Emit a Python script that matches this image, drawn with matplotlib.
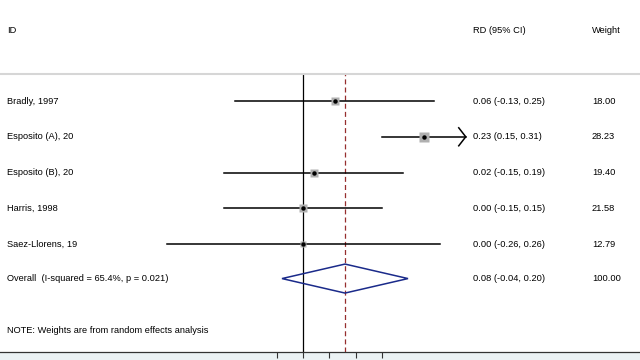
import numpy as np
import matplotlib
matplotlib.use("Agg")
import matplotlib.pyplot as plt
from matplotlib.patches import Rectangle, Polygon
from matplotlib.lines import Line2D

# Study data
study_ids = ["Bradly, 1997", "Esposito (A), 20", "Esposito (B), 20", "Harris, 1998", "Saez-Llorens, 19"]
rd = [0.06, 0.23, 0.02, 0.00, 0.00]
ci_low = [-0.13, 0.15, -0.15, -0.15, -0.26]
ci_high = [0.25, 0.31, 0.19, 0.15, 0.26]
ci_text = ["0.06 (-0.13, 0.25)", "0.23 (0.15, 0.31)", "0.02 (-0.15, 0.19)",
           "0.00 (-0.15, 0.15)", "0.00 (-0.26, 0.26)"]
weights = [18.00, 28.23, 19.40, 21.58, 12.79]
weight_text = ["18.00", "28.23", "19.40", "21.58", "12.79"]

overall_label = "Overall  (I-squared = 65.4%, p = 0.021)"
overall_rd, overall_low, overall_high = 0.08, -0.04, 0.20
overall_text = "0.08 (-0.04, 0.20)"
overall_weight = "100.00"
note = "NOTE: Weights are from random effects analysis"

x_ticks = [-0.05, 0.0, 0.05, 0.10, 0.15]
x_clip = 0.31  # right edge of the plotted range; CIs reaching it get an arrow

plt.rcParams['font.family'] = ['Liberation Sans', 'DejaVu Sans']
fs = 6.7

fig = plt.figure(figsize=(6.4, 3.6), dpi=100)
fig.patch.set_facecolor("white")

# pixel scale of the plot
px_per_x = 525.0
row_px = 35.8

# axis spans px 74 .. 351.5
ax = fig.add_axes([0, (360 - 351.5) / 360, 1, (351.5 - 74) / 360])
ax.set_xlim(-303 / px_per_x, (640 - 303) / px_per_x)
r_top = 1 - (101 - 74) / row_px
r_bot = 1 + (351.5 - 101) / row_px
ax.set_ylim(r_bot, r_top)
ax.patch.set_alpha(0)
for s in ["top", "left", "right"]:
    ax.spines[s].set_visible(False)
ax.spines["bottom"].set_color("#333333")
ax.spines["bottom"].set_linewidth(0.9)
ax.set_xticks(x_ticks)
ax.set_xticklabels([])
ax.tick_params(axis="x", direction="out", length=4.5, width=0.8, color="#333333")
ax.set_yticks([])

# light band below the axis and grey separator at top
fig.add_artist(Rectangle((0, 0), 1, (360 - 352) / 360, transform=fig.transFigure,
                         facecolor="#ebf2f4", edgecolor="none", zorder=0))
fig.add_artist(Line2D([0, 1], [(360 - 74) / 360] * 2, transform=fig.transFigure,
                      color="#d6d6d6", lw=1.5))

# null line and overall dashed line
ax.axvline(0, color="black", lw=0.9, zorder=2)
ax.axvline(overall_rd, color="#962e2e", lw=0.9, ls=(0, (4, 2.5)), zorder=2)

rows = np.arange(1, len(study_ids) + 1)
tr = ax.get_yaxis_transform()
head_dx = 7 / px_per_x
head_dy = 9 / row_px
for r, est, lo, hi, w, sid, ct, wt in zip(rows, rd, ci_low, ci_high, weights,
                                          study_ids, ci_text, weight_text):
    if hi >= x_clip - 1e-9:
        ax.plot([lo, x_clip], [r, r], color="black", lw=1.1, zorder=3)
        ax.plot([x_clip - head_dx, x_clip, x_clip - head_dx],
                [r - head_dy, r, r + head_dy], color="black", lw=1.1, zorder=3)
    else:
        ax.plot([lo, hi], [r, r], color="black", lw=1.1, zorder=3)
    side = 1.75 * np.sqrt(w) / 1.389
    ax.plot(est, r, marker="s", ms=side, color="#b0b0b0", mec="none", zorder=4)
    ax.plot(est, r, marker="o", ms=3.2, color="black", mec="none", zorder=5)
    ax.text(7 / 640, r, sid, transform=tr, fontsize=fs, va="center", ha="left")
    ax.text(473 / 640, r, ct, transform=tr, fontsize=fs, va="center", ha="left")
    ax.text(592 / 640, r, wt, transform=tr, fontsize=fs, va="center", ha="left")

# overall diamond
r_ov = len(study_ids) + 1 - 0.04
h = 14.5 / row_px
ax.add_patch(Polygon([[overall_low, r_ov], [overall_rd, r_ov - h],
                      [overall_high, r_ov], [overall_rd, r_ov + h]],
                     closed=True, fill=False, edgecolor="#1a2a8a", lw=1.1, zorder=4))
ax.text(7 / 640, r_ov, overall_label, transform=tr, fontsize=fs, va="center", ha="left")
ax.text(473 / 640, r_ov, overall_text, transform=tr, fontsize=fs, va="center", ha="left")
ax.text(592 / 640, r_ov, overall_weight, transform=tr, fontsize=fs, va="center", ha="left")

# header and note
r_head = 1 - (101 - 30) / row_px
ax.text(7 / 640, r_head, "ID", transform=tr, fontsize=fs, va="center", ha="left")
ax.text(473 / 640, r_head, "RD (95% CI)", transform=tr, fontsize=fs, va="center", ha="left")
ax.text(592 / 640, r_head, "Weight", transform=tr, fontsize=fs, va="center", ha="left")
r_note = 1 + (330 - 101) / row_px
ax.text(7 / 640, r_note, note, transform=tr, fontsize=fs, va="center", ha="left")

fig.savefig("out.png", dpi=100)
